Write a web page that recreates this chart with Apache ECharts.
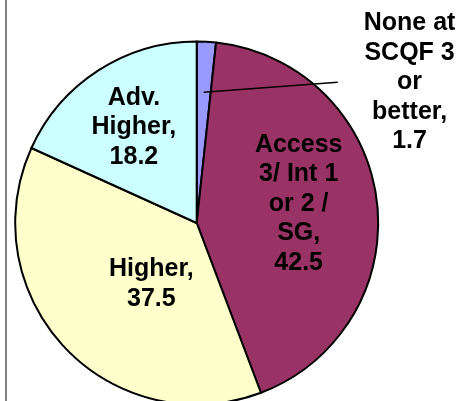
<!DOCTYPE html>
<html>
<head>
<meta charset="utf-8">
<style>
  html, body { margin: 0; padding: 0; background: #fff; }
  #chart { width: 465px; height: 401px; }
</style>
<script src="https://cdn.jsdelivr.net/npm/echarts@6/dist/echarts.min.js"></script>
</head>
<body>
<div id="chart"></div>
<script>
// Attainment categories (line breaks as they wrap in the labels)
const categories = [
  'None at\nSCQF 3\nor\nbetter',
  'Access\n3/ Int 1\nor 2 /\nSG',
  'Higher',
  'Adv.\nHigher'
];
// Percentage of leavers in each category
const values = [1.7, 42.5, 37.5, 18.2];
const sliceColors = ['#9999FF', '#993366', '#FFFFCC', '#CCFFFF'];

// Nudges for the labels drawn inside their slices (dx, dy in px)
const insideNudge = [null, [9, -7], [23, -3], [-12, -17]];

const labelFont = {
  fontFamily: 'Liberation Sans, Arial, sans-serif',
  fontWeight: 'bold',
  fontSize: 25,
  lineHeight: 29.5,
  color: '#000'
};

const pieCenter = [196.7, 223];
const pieRadius = 181.5;

const mainData = categories.map((name, i) => ({
  name: name,
  value: values[i],
  itemStyle: { color: sliceColors[i] },
  label: { show: i !== 0 }
}));

// Transparent companion ring: its outer edge is where the leader line of the
// smallest slice starts, so only that one label is shown here.
const leaderData = categories.map((name, i) => ({
  name: name,
  value: values[i],
  itemStyle: { color: 'rgba(0,0,0,0)', borderWidth: 0 },
  label: { show: i === 0 },
  labelLine: { show: i === 0 }
}));

const chart = echarts.init(document.getElementById('chart'), null, { renderer: 'canvas' });

chart.setOption({
  animation: false,
  backgroundColor: '#fff',
  graphic: [{
    type: 'line',
    shape: { x1: 6, y1: 0, x2: 6, y2: 401 },
    style: { stroke: '#808080', lineWidth: 2 },
    silent: true
  }],
  series: [
    {
      type: 'pie',
      z: 2,
      center: pieCenter,
      radius: pieRadius,
      startAngle: 90,
      clockwise: true,
      avoidLabelOverlap: false,
      silent: true,
      itemStyle: { borderColor: '#000', borderWidth: 2 },
      label: Object.assign({
        position: 'inside',
        formatter: p => p.name + ',\n' + p.value
      }, labelFont),
      labelLine: { show: false },
      labelLayout: p => {
        const n = insideNudge[p.dataIndex];
        return n ? { dx: n[0], dy: n[1] } : {};
      },
      emphasis: { disabled: true },
      data: mainData
    },
    {
      type: 'pie',
      z: 6,
      center: pieCenter,
      radius: 131,
      startAngle: 90,
      clockwise: true,
      avoidLabelOverlap: false,
      silent: true,
      label: {
        position: 'outside',
        distanceToLabelLine: 26,
        formatter: p => (p.name + ',\n' + p.value)
          .split('\n').map(s => '{c|' + s + '}').join('\n'),
        rich: { c: Object.assign({ align: 'center' }, labelFont) }
      },
      labelLine: {
        length: 1,
        length2: 134,
        lineStyle: { color: '#000', width: 1.5 }
      },
      labelLayout: p => {
        const pts = p.labelLinePoints;
        if (!pts) return {};
        const end = pts[pts.length - 1];
        return {
          dy: -9,
          labelLinePoints: [pts[0], [end[0], end[1] - 9]]
        };
      },
      emphasis: { disabled: true },
      data: leaderData
    }
  ]
});
</script>
</body>
</html>
